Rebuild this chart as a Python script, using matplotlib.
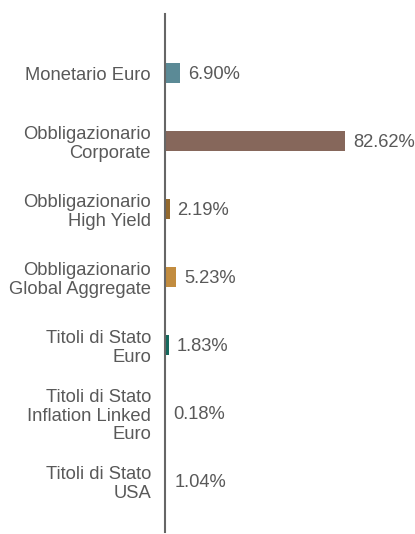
import matplotlib.pyplot as plt

categories = [
    "Monetario Euro",
    "Obbligazionario\nCorporate",
    "Obbligazionario\nHigh Yield",
    "Obbligazionario\nGlobal Aggregate",
    "Titoli di Stato\nEuro",
    "Titoli di Stato\nInflation Linked\nEuro",
    "Titoli di Stato\nUSA",
]
weights = [6.90, 82.62, 2.19, 5.23, 1.83, 0.18, 1.04]
colors = ["#5b8a96", "#86675b", "#93692d", "#c28c3f", "#15695d", "#ffffff", "#ffffff"]

TEXT_COLOR = "#595959"
plt.rcParams["font.family"] = ["Liberation Sans", "DejaVu Sans"]

fig = plt.figure(figsize=(4.15, 5.34), dpi=100)
ax = fig.add_axes([165 / 415, 2 / 534, 250 / 415, 518 / 534])

pos = list(range(len(categories)))
ax.barh(pos, weights, height=0.29, color=colors)

for y, w in zip(pos, weights):
    ax.text(w + 3.6, y + 0.02, f"{w:.2f}%", va="center", ha="left",
            fontsize=13.2, color=TEXT_COLOR)

ax.set_yticks(pos)
ax.set_yticklabels(categories, fontsize=13.2, color=TEXT_COLOR, linespacing=1.15)
ax.tick_params(axis="y", length=0, pad=10)
ax.set_xticks([])
ax.set_xlim(0, 250 / 2.18)
ax.set_ylim(6.75, -0.87)

for side in ["top", "right", "bottom"]:
    ax.spines[side].set_visible(False)
ax.spines["left"].set_color("#666666")
ax.spines["left"].set_linewidth(1.5)

fig.savefig("out.png", dpi=100)
